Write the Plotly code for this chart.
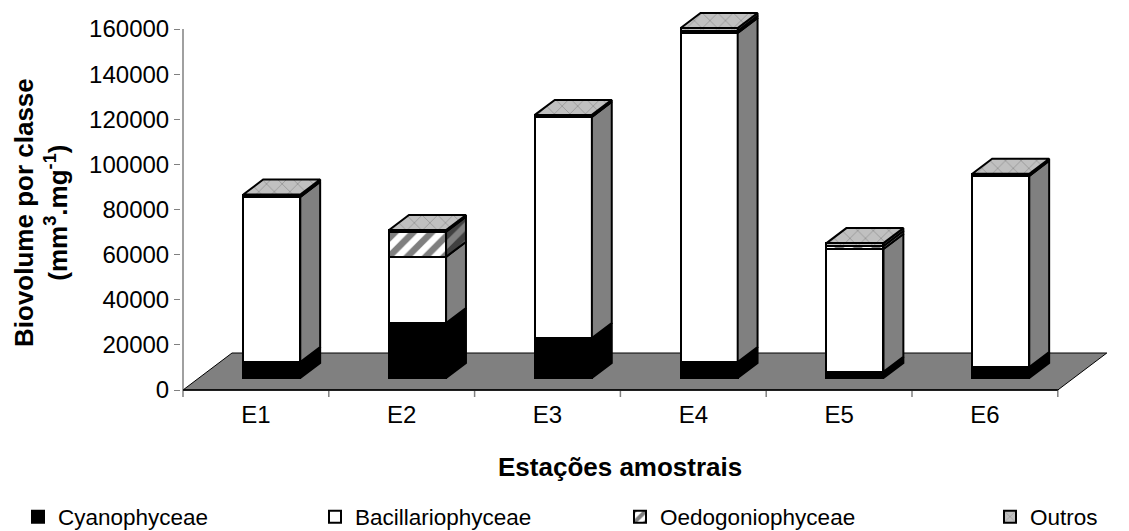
import plotly.graph_objects as go

# ---------------- data ----------------
categories = ["E1", "E2", "E3", "E4", "E5", "E6"]
cyanophyceae = [7100, 24400, 17700, 7100, 2700, 4900]
bacillariophyceae = [73100, 29300, 98000, 145800, 54500, 84700]
oedogoniophyceae = [300, 11100, 200, 1000, 1300, 300]
outros = [800, 800, 700, 1200, 1300, 600]
y_ticks = [0, 20000, 40000, 60000, 80000, 100000, 120000, 140000, 160000]

series = [
    ("Cyanophyceae", cyanophyceae),
    ("Bacillariophyceae", bacillariophyceae),
    ("Oedogoniophyceae", oedogoniophyceae),
    ("Outros", outros),
]

# ---------------- styles ----------------
FONT = "Liberation Sans, Arial, sans-serif"
stripe = dict(shape="/", fgcolor="black", bgcolor="white", size=13, solidity=0.5)
front_style = {
    "Cyanophyceae": dict(color="black"),
    "Bacillariophyceae": dict(color="white"),
    "Oedogoniophyceae": dict(color="white", pattern=stripe),
    "Outros": dict(color="#C0C0C0",
                   pattern=dict(shape="x", fgcolor="#555555", bgcolor="#C0C0C0",
                                size=11, solidity=0.12)),
}
side_style = {
    "Cyanophyceae": dict(fillcolor="black"),
    "Bacillariophyceae": dict(fillcolor="#808080"),
    "Oedogoniophyceae": dict(fillcolor="#808080",
                             fillpattern=dict(shape="/", fgcolor="black", bgcolor="#808080",
                                              size=13, solidity=0.5)),
    "Outros": dict(fillcolor="#808080",
                   fillpattern=dict(shape="x", fgcolor="#404040", bgcolor="#808080",
                                    size=11, solidity=0.12)),
}
top_fill = dict(fillcolor="#C0C0C0",
                fillpattern=dict(shape="x", fgcolor="#555555", bgcolor="#C0C0C0",
                                 size=11, solidity=0.12))
legend_pos = {"Cyanophyceae": 18, "Bacillariophyceae": 315,
              "Oedogoniophyceae": 620, "Outros": 990}

# ---------------- geometry (pixel layout -> data units) ----------------
W, H = 1129, 531
CW = 145.8                 # px per category
S = 361 / 160000           # px per value unit
X0PX, Y0PX = 183, 390      # pixel of (x=-0.5, y=0)
L, R, T, B = 181, 1112, 5, 398
x_range = [-0.5 - (X0PX - L) / CW, -0.5 + (R - X0PX) / CW]
y_range = [-(B - Y0PX) / S, (Y0PX - T) / S]
DX, DY = 49 / CW, 37 / S   # full floor depth
F0, F1 = 12 / 37, 27 / 37  # bar front / back depth fraction
HW = 28.5 / CW             # half bar width
ddx, ddy = (F1 - F0) * DX, (F1 - F0) * DY
n = len(categories)

fig = go.Figure()

# front faces as bars
cum = [0.0] * n
segs = {}
for k, (name, vals) in enumerate(series):
    bases = [F0 * DY + cum[i] for i in range(n)]
    xs = [i + F0 * DX for i in range(n)]
    segs[name] = [(xs[i] - HW, xs[i] + HW, bases[i], bases[i] + vals[i]) for i in range(n)]
    st = front_style[name]
    fig.add_trace(go.Bar(
        x=xs, y=vals, base=bases, width=2 * HW, name=name,
        marker=dict(color=st["color"], pattern=st.get("pattern"),
                    line=dict(color="black", width=2)),
        legend="legend" if k == 0 else f"legend{k+1}",
        hoverinfo="skip",
    ))
    cum = [cum[i] + vals[i] for i in range(n)]

# side faces
for name, vals in series:
    px, py = [], []
    for i, (xl, xr, yb, yt) in enumerate(segs[name]):
        if vals[i] <= 0:
            continue
        px += [xr, xr + ddx, xr + ddx, xr, xr, None]
        py += [yb, yb + ddy, yt + ddy, yt, yb, None]
    fig.add_trace(go.Scatter(x=px, y=py, mode="lines", fill="toself",
                             line=dict(color="black", width=2),
                             showlegend=False, hoverinfo="skip", **side_style[name]))

# top faces
px, py = [], []
for (xl, xr, yb, yt) in segs[series[-1][0]]:
    px += [xl, xr, xr + ddx, xl + ddx, xl, None]
    py += [yt, yt, yt + ddy, yt + ddy, yt, None]
fig.add_trace(go.Scatter(x=px, y=py, mode="lines", fill="toself",
                         line=dict(color="black", width=2),
                         showlegend=False, hoverinfo="skip", **top_fill))

# axis lines and x tick marks
fig.add_trace(go.Scatter(x=[-0.5, -0.5], y=[0, y_ticks[-1]], mode="lines",
                         line=dict(color="#808080", width=1.5),
                         showlegend=False, hoverinfo="skip"))
tx, ty = [], []
for j in range(n + 1):
    tx += [j - 0.5, j - 0.5, None]
    ty += [0, -7 / S, None]
fig.add_trace(go.Scatter(x=tx, y=ty, mode="lines", line=dict(color="#808080", width=1.5),
                         showlegend=False, hoverinfo="skip"))
fig.add_trace(go.Scatter(x=[-0.5, n - 0.5], y=[0, 0], mode="lines",
                         line=dict(color="black", width=1.5),
                         showlegend=False, hoverinfo="skip"))

# floor
floor = (f"M {-0.5},0 L {n-0.5},0 L {n-0.5+DX},{DY} L {-0.5+DX},{DY} Z")
fig.add_shape(type="path", path=floor, xref="x", yref="y", layer="below",
              fillcolor="#808080", line=dict(color="black", width=1))

legends = {}
for k, (name, _) in enumerate(series):
    key = "legend" if k == 0 else f"legend{k+1}"
    legends[key] = dict(x=legend_pos[name] / W, xref="container", xanchor="left",
                        y=1 - 517 / H, yref="container", yanchor="middle",
                        orientation="h", bgcolor="rgba(0,0,0,0)",
                        font=dict(family=FONT, size=22.5, color="black"))

fig.update_layout(
    width=W, height=H,
    margin=dict(l=L, r=W - R, t=T, b=H - B),
    paper_bgcolor="white", plot_bgcolor="white",
    barmode="overlay", bargap=0,
    showlegend=True,
    font=dict(family=FONT, size=24, color="black"),
    xaxis=dict(range=x_range, tickvals=list(range(n)), ticktext=categories,
               showgrid=False, zeroline=False, showline=False, ticks="",
               tickfont=dict(family=FONT, size=24, color="black")),
    yaxis=dict(range=y_range, tickvals=y_ticks, ticktext=[str(v) for v in y_ticks],
               showgrid=False, zeroline=False, showline=False,
               ticks="outside", ticklen=6, tickcolor="#808080", tickwidth=1,
               tickfont=dict(family=FONT, size=24, color="black")),
    annotations=[
        dict(text="<b>Estações amostrais</b>", xref="paper", yref="paper",
             x=(620 - L) / (R - L), y=-(467 - B) / (B - T), xanchor="center", yanchor="middle",
             showarrow=False, font=dict(family=FONT, size=26, color="black")),
        dict(text="<b>Biovolume por classe<br>(mm<sup>3</sup>.mg<sup>-1</sup>)</b>",
             xref="paper", yref="paper", x=-(L - 41) / (R - L), y=(B - 213) / (B - T),
             xanchor="center", yanchor="middle", textangle=-90, showarrow=False,
             font=dict(family=FONT, size=26, color="black")),
    ],
    **legends,
)

fig.write_html("out.html")
